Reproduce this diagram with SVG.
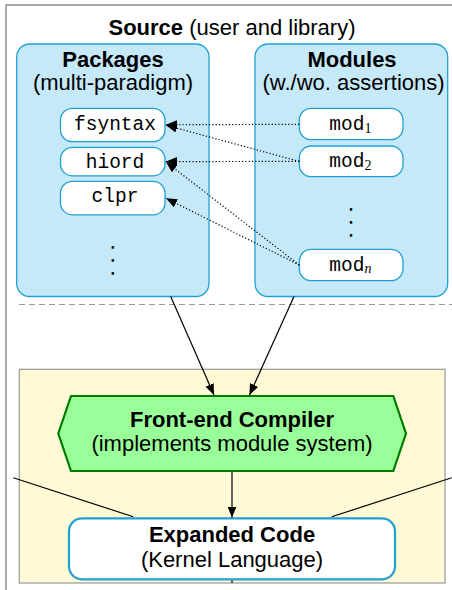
<svg xmlns="http://www.w3.org/2000/svg" width="452" height="590" viewBox="0 0 452 590">
<style>
  .t { font-family: "Liberation Sans", Arial, sans-serif; font-size: 22px; fill: #000; }
  .b { font-weight: bold; }
  .m { font-family: "Liberation Mono", "Courier New", monospace; font-size: 19.5px; fill: #000; }
  .sub { font-family: "Liberation Serif", "Times New Roman", serif; font-size: 14px; }
  .grp { fill: #c6e9f9; stroke: #22a0d2; stroke-width: 1.3; }
  .pill { fill: #ffffff; stroke: #22a0d2; stroke-width: 1.3; }
  .dot { stroke: #000; stroke-width: 1.2; stroke-dasharray: 1.2 2.1; fill: none; }
  .sol { stroke: #000; stroke-width: 1.2; fill: none; }
  .vd { font-family: "Liberation Sans", Arial, sans-serif; font-size: 11px; fill: #000; stroke: #000; stroke-width: 1.3; }
</style>
<defs>
  <marker id="ah" markerUnits="userSpaceOnUse" markerWidth="12" markerHeight="9" refX="11" refY="4.5" orient="auto">
    <path d="M0,0 L11,4.5 L0,9 Z" fill="#000"/>
  </marker>
</defs>

<!-- frame -->
<g id="frame">
  <path d="M6,590 L6,5 L452,5" fill="none" stroke="#888" stroke-width="1.4"/>
  <line x1="19" y1="304.5" x2="452" y2="304.5" stroke="#999" stroke-width="1.2" stroke-dasharray="6 4"/>
  <text class="t" x="232" y="35" text-anchor="middle"><tspan class="b">Source</tspan> (user and library)</text>
</g>

<g id="packages">
  <rect class="grp" x="16.7" y="44" width="192.3" height="252.5" rx="13"/>
  <text class="t b" x="113" y="67" text-anchor="middle">Packages</text>
  <text class="t" x="113" y="90" text-anchor="middle">(multi-paradigm)</text>
  <text class="vd" text-anchor="middle"><tspan x="112.7" y="247.6">.</tspan><tspan x="112.7" y="261.1">.</tspan><tspan x="112.7" y="273.9">.</tspan></text>
</g>
<g id="fsyntax">
  <rect class="pill" x="60.5" y="108.3" width="104.5" height="33.4" rx="12"/>
  <text class="m" x="115" y="129.5" text-anchor="middle">fsyntax</text>
</g>
<g id="hiord">
  <rect class="pill" x="60.5" y="147.3" width="104.5" height="28.6" rx="12"/>
  <text class="m" x="115" y="167.5" text-anchor="middle">hiord</text>
</g>
<g id="clpr">
  <rect class="pill" x="60.5" y="181.3" width="104.5" height="33.6" rx="12"/>
  <text class="m" x="115" y="201.7" text-anchor="middle">clpr</text>
</g>

<g id="modules">
  <rect class="grp" x="255" y="44" width="192.7" height="252.5" rx="13"/>
  <text class="t b" x="352" y="67" text-anchor="middle">Modules</text>
  <text class="t" x="353.5" y="90" text-anchor="middle">(w./wo. assertions)</text>
  <text class="vd" text-anchor="middle"><tspan x="351" y="209.9">.</tspan><tspan x="351" y="222.9">.</tspan><tspan x="351" y="235.6">.</tspan></text>
</g>
<g id="mod1">
  <rect class="pill" x="299.3" y="108.3" width="103.7" height="31.4" rx="12"/>
  <text class="m" x="329.3" y="130">mod<tspan class="sub" dy="3">1</tspan></text>
</g>
<g id="mod2">
  <rect class="pill" x="299.3" y="146" width="103.7" height="30.7" rx="12"/>
  <text class="m" x="329.3" y="167">mod<tspan class="sub" dy="3">2</tspan></text>
</g>
<g id="modn">
  <rect class="pill" x="299.3" y="249.3" width="103.7" height="31.4" rx="12"/>
  <text class="m" x="329.3" y="271">mod<tspan class="sub" dy="2" font-style="italic" font-size="16px">n</tspan></text>
</g>

<g id="frontend-area">
  <rect x="19.3" y="369.3" width="425.7" height="213.7" fill="#fff9d6" stroke="#999" stroke-width="1.2"/>
</g>

<g id="compiler">
  <polygon points="71,396 393.3,396 406,433.5 393.3,471 71,471 58.3,433.5" fill="#99ff99" stroke="#007a00" stroke-width="2.2"/>
  <text class="t b" x="232" y="426.7" text-anchor="middle">Front-end Compiler</text>
  <text class="t" x="232" y="451" text-anchor="middle">(implements module system)</text>
</g>

<g id="expanded">
  <rect x="69" y="518.3" width="326" height="61" rx="13" fill="#ffffff" stroke="#22a0d2" stroke-width="2.2"/>
  <text class="t b" x="232" y="541.7" text-anchor="middle">Expanded Code</text>
  <text class="t" x="232" y="566.5" text-anchor="middle">(Kernel Language)</text>
</g>

<g id="connectors">
  <line class="dot" x1="299.3" y1="124.3" x2="166" y2="124.8" marker-end="url(#ah)"/>
  <line class="dot" x1="299.3" y1="161.4" x2="166" y2="125.2" marker-end="url(#ah)"/>
  <line class="dot" x1="299.3" y1="161.4" x2="166" y2="161.6" marker-end="url(#ah)"/>
  <line class="dot" x1="299.3" y1="265" x2="166" y2="162" marker-end="url(#ah)"/>
  <line class="dot" x1="299.3" y1="265" x2="166" y2="198.3" marker-end="url(#ah)"/>
  <line class="sol" x1="170.7" y1="296.5" x2="214" y2="395" marker-end="url(#ah)"/>
  <line class="sol" x1="294" y1="296.5" x2="249.5" y2="395" marker-end="url(#ah)"/>
  <line class="sol" x1="232" y1="472" x2="232" y2="517.5" marker-end="url(#ah)"/>
  <line class="sol" x1="232" y1="580.5" x2="232" y2="583"/>
  <line class="sol" x1="13.3" y1="477.7" x2="133.3" y2="516.8"/>
  <line class="sol" x1="331.7" y1="516.8" x2="451.7" y2="477.7"/>
</g>
</svg>
